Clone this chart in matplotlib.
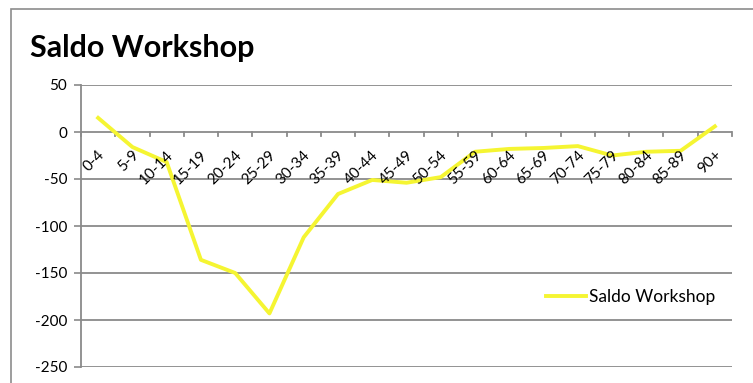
import matplotlib
matplotlib.use("Agg")
import matplotlib.pyplot as plt
from matplotlib.patches import Rectangle

plt.rcParams['font.family'] = ['Lato', 'DejaVu Sans']

age_groups = ["0-4", "5-9", "10-14", "15-19", "20-24", "25-29", "30-34", "35-39",
              "40-44", "45-49", "50-54", "55-59", "60-64", "65-69", "70-74", "75-79",
              "80-84", "85-89", "90+"]
saldo = [15, -16, -32, -136, -150, -193, -112, -66, -51, -54, -48, -21, -18,
         -17, -15, -25, -21, -20, 6]
y_ticks = [50, 0, -50, -100, -150, -200, -250]
series_name = "Saldo Workshop"

W, H = 753, 383
fig = plt.figure(figsize=(W / 100, H / 100), dpi=100)
fig.patch.set_facecolor("white")

# outer chart frame
fig.add_artist(Rectangle((11 / W, -0.1), 1.2, (H - 9) / H + 0.1,
                         transform=fig.transFigure, fill=False,
                         edgecolor="#8c8c8c", linewidth=1.2))

ax = fig.add_axes([81 / W, (H - 367) / H, (732 - 81) / W, (367 - 85) / H])
x = list(range(len(age_groups)))
grid_color = "#8a8a8a"

for v in y_ticks:
    ax.axhline(v, color=grid_color, linewidth=1.3, zorder=1)

ax.plot(x, saldo, color="#F5F532", linewidth=2.8, label=series_name, zorder=3)

ax.set_xlim(-0.5, len(age_groups) - 0.5)
ax.set_ylim(-250, 50)
ax.set_yticks(y_ticks)
ax.set_yticklabels([str(v) for v in y_ticks], fontsize=11)
ax.tick_params(axis="y", length=5, width=1.2, color=grid_color, pad=5)

for s in ["top", "right", "bottom"]:
    ax.spines[s].set_visible(False)
ax.spines["left"].set_color(grid_color)
ax.spines["left"].set_linewidth(1.3)

# category axis crosses at zero: tick marks at category boundaries
ax.set_xticks([])
for b in range(len(age_groups) + 1):
    ax.plot([b - 0.5, b - 0.5], [0, -4.5], color=grid_color, linewidth=1.3,
            zorder=2, clip_on=False)

for i, lab in enumerate(age_groups):
    ax.annotate(lab, xy=(i, 0), xytext=(3, -15), textcoords="offset points",
                rotation=45, rotation_mode="anchor", ha="right", va="center",
                fontsize=11, color="black", zorder=4)

leg = ax.legend(loc="center left", bbox_to_anchor=(0.714, 0.248), frameon=False,
                fontsize=12.5, handlelength=2.3, handletextpad=0.2,
                borderpad=0, borderaxespad=0)

fig.text(30 / W, 1 - 48 / H, "Saldo Workshop", fontsize=22, fontweight="bold",
         va="center", ha="left")

fig.savefig("out.png", dpi=100)
